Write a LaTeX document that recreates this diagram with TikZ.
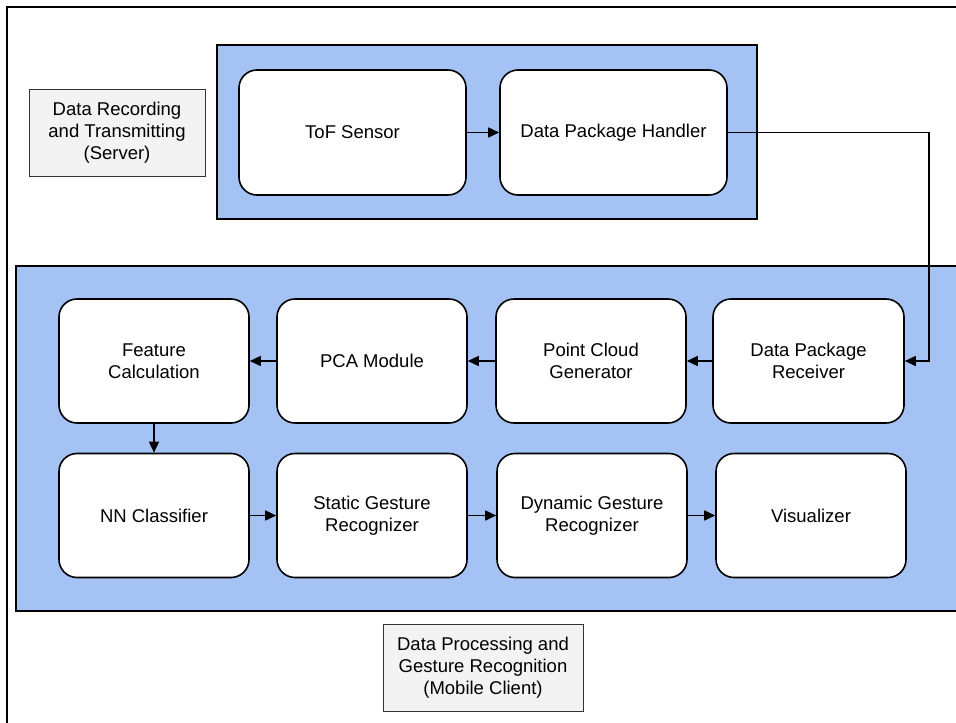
\documentclass[tikz,border=0pt]{standalone}
\usepackage{fontspec}
\setmainfont{Liberation Sans}
\usetikzlibrary{arrows.meta}
\definecolor{panelblue}{HTML}{A4C2F4}
\definecolor{labelgray}{HTML}{F3F3F3}
\tikzset{
  module/.style={draw=black, fill=white, line width=1.6pt, rounded corners=18pt,
    minimum width=190pt, minimum height=124pt, align=center, inner sep=2pt,
    font=\fontsize{18.5}{22}\selectfont},
  panel/.style={draw=black, fill=panelblue, line width=1.6pt},
  tag/.style={draw=black!80, fill=labelgray, line width=0.9pt, align=center,
    font=\fontsize{18.5}{22}\selectfont, inner sep=0pt},
  flow/.style={line width=1.6pt, -{Triangle[length=11pt,width=10pt]}},
}
\begin{document}
\begin{tikzpicture}[x=1pt,y=-1pt]
\useasboundingbox (0,0) rectangle (956,723);
\clip (0,0) rectangle (956,723);
% outer frame
\draw[line width=1.2pt] (7,7) rectangle (980,740);
% panels
\node[panel, minimum width=540pt, minimum height=174pt, inner sep=0pt] (toppanel) at (487,132) {};
\node[panel, minimum width=975pt, minimum height=345pt, inner sep=0pt, anchor=north west] (botpanel) at (15,265) {};
% labels
\node[tag, minimum width=176pt, minimum height=87pt] (serverlabel) at (117,132.5) {Data Recording\\and Transmitting\\(Server)};
\node[tag, minimum width=200pt, minimum height=87pt] (clientlabel) at (483,667.5) {Data Processing and\\Gesture Recognition\\(Mobile Client)};
% server modules
\node[module, minimum width=227pt, minimum height=125pt] (tof) at (352.5,132.5) {ToF Sensor};
\node[module, minimum width=227pt, minimum height=125pt] (handler) at (613.5,132.5) {Data Package Handler};
% client row 1
\node[module] (feature) at (154,361) {Feature\\Calculation};
\node[module] (pca) at (372,361) {PCA Module};
\node[module] (pcg) at (591,361) {Point Cloud\\Generator};
\node[module, minimum width=191pt] (receiver) at (808.5,361) {Data Package\\Receiver};
% client row 2
\node[module] (nn) at (154,515.5) {NN Classifier};
\node[module] (static) at (372,515.5) {Static Gesture\\Recognizer};
\node[module] (dynamic) at (592,515.5) {Dynamic Gesture\\Recognizer};
\node[module] (vis) at (811,515.5) {Visualizer};
% connectors
\coordinate (bendA) at (929,132.5);
\coordinate (bendB) at (929,361);
\draw[flow] (tof) -- (handler);
\draw[flow] (handler.east) -- (bendA) -- (bendB) -- (receiver.east);
\draw[flow] (receiver) -- (pcg);
\draw[flow] (pcg) -- (pca);
\draw[flow] (pca) -- (feature);
\draw[flow] (feature) -- (nn);
\draw[flow] (nn) -- (static);
\draw[flow] (static) -- (dynamic);
\draw[flow] (dynamic) -- (vis);
\end{tikzpicture}
\end{document}
